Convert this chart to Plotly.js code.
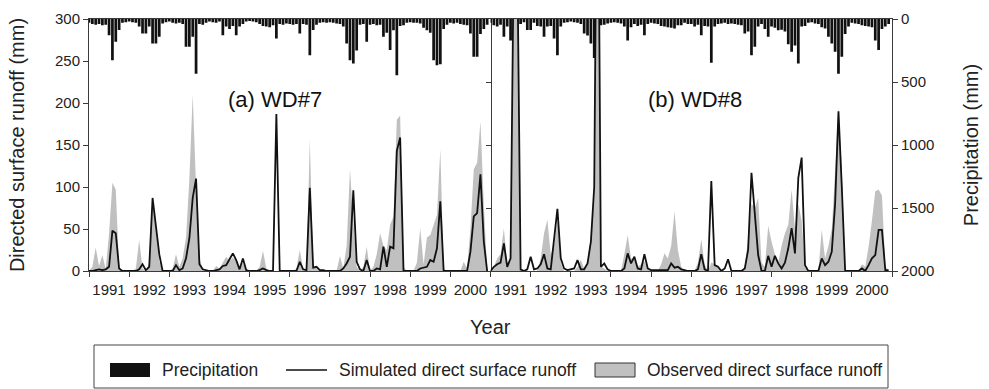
<!DOCTYPE html>
<html>
<head>
<meta charset="utf-8">
<script src="https://cdn.plot.ly/plotly-3.0.1.min.js"></script>
<style>
  html, body { margin: 0; padding: 0; background: #fff; }
  #chart { width: 989px; height: 389px; }
</style>
</head>
<body>
<div id="chart"></div>
<script>
// Monthly series, January 1991 – December 2000 (one row per year)
const years = [1991, 1992, 1993, 1994, 1995, 1996, 1997, 1998, 1999, 2000];
const yearLabels = ['1991', '1992', '1993', '1994', '1995', '1996', '1997', '1998', '1999', '2000'];

// WD#7 monthly precipitation (mm)
const wd7Precip = [
  30, 40, 45, 40, 50, 45, 128, 327, 180, 88, 30, 25,
  20, 25, 30, 60, 115, 115, 60, 195, 195, 140, 35, 25,
  20, 30, 35, 30, 40, 220, 220, 140, 434, 40, 45, 30,
  20, 25, 30, 20, 128, 60, 80, 55, 128, 60, 40, 20,
  15, 20, 25, 40, 55, 60, 65, 50, 154, 40, 45, 35,
  40, 45, 40, 115, 40, 45, 287, 88, 45, 30, 25, 30,
  25, 30, 35, 40, 60, 195, 327, 354, 250, 45, 40, 180,
  45, 40, 50, 45, 140, 110, 247, 90, 447, 55, 50, 30,
  25, 30, 30, 35, 70, 90, 110, 327, 367, 360, 80, 45,
  30, 35, 30, 40, 45, 50, 115, 300, 300, 120, 80, 45
];
// WD#7 observed direct surface runoff (mm)
const wd7Obs = [
  0, 5, 28, 6, 19, 2, 45, 105, 97, 5, 0, 0,
  0, 0, 3, 37, 3, 0, 10, 80, 50, 12, 0, 0,
  0, 3, 20, 5, 15, 40, 110, 210, 100, 15, 3, 0,
  0, 0, 6, 3, 10, 17, 12, 16, 12, 2, 10, 0,
  0, 0, 0, 5, 24, 3, 0, 0, 0, 0, 0, 0,
  0, 0, 3, 25, 3, 0, 157, 5, 3, 0, 0, 0,
  0, 0, 0, 18, 3, 30, 121, 60, 5, 0, 5, 29,
  0, 5, 20, 45, 30, 25, 55, 65, 180, 185, 5, 0,
  0, 0, 10, 51, 8, 40, 43, 55, 67, 145, 3, 0,
  0, 0, 0, 0, 11, 3, 50, 121, 129, 178, 80, 0
];
// WD#7 simulated direct surface runoff (mm)
const wd7Sim = [
  0, 0, 1, 2, 1, 2, 5, 48, 45, 3, 0, 0,
  0, 0, 0, 2, 8, 1, 5, 87, 55, 20, 0, 0,
  0, 0, 7, 1, 3, 15, 39, 87, 110, 8, 2, 1,
  0, 0, 1, 2, 6, 7, 14, 21, 13, 2, 15, 1,
  0, 0, 0, 1, 3, 1, 0, 0, 187, 0, 0, 0,
  0, 0, 0, 11, 2, 1, 99, 4, 5, 1, 1, 0,
  0, 0, 0, 0, 3, 9, 17, 96, 11, 2, 0, 13,
  0, 0, 3, 2, 29, 5, 29, 27, 143, 159, 0, 0,
  0, 0, 0, 3, 4, 5, 13, 11, 27, 83, 0, 0,
  0, 0, 0, 0, 0, 0, 23, 65, 69, 115, 35, 0
];

// WD#8 monthly precipitation (mm)
const wd8Precip = [
  30, 50, 60, 45, 140, 60, 170, 300, 200, 40, 25, 88,
  88, 30, 55, 60, 140, 60, 55, 154, 287, 60, 30, 25,
  20, 25, 30, 40, 115, 130, 195, 310, 130, 50, 45, 35,
  30, 25, 30, 35, 60, 170, 65, 40, 55, 45, 128, 40,
  30, 35, 40, 55, 60, 65, 70, 75, 50, 50, 30, 40,
  40, 60, 45, 128, 55, 60, 348, 60, 40, 35, 30, 40,
  35, 40, 45, 50, 115, 100, 287, 220, 60, 40, 80, 140,
  60, 70, 90, 85, 100, 200, 260, 210, 354, 60, 55, 30,
  25, 35, 40, 65, 75, 140, 195, 260, 434, 300, 120, 60,
  30, 35, 40, 50, 55, 60, 65, 170, 247, 80, 60, 40
];
// WD#8 observed direct surface runoff (mm)
const wd8Obs = [
  0, 5, 15, 20, 51, 8, 12, 390, 370, 3, 0, 0,
  0, 0, 0, 15, 45, 61, 20, 30, 60, 10, 0, 0,
  0, 0, 5, 13, 3, 10, 40, 90, 550, 5, 3, 0,
  0, 0, 0, 0, 20, 43, 15, 15, 5, 8, 12, 3,
  0, 0, 0, 8, 21, 15, 30, 71, 25, 5, 0, 0,
  0, 0, 10, 38, 8, 0, 10, 8, 5, 0, 0, 0,
  0, 0, 0, 0, 5, 40, 80, 75, 87, 10, 5, 54,
  35, 20, 10, 30, 45, 55, 97, 50, 80, 60, 5, 0,
  0, 0, 0, 49, 15, 30, 50, 120, 195, 120, 0, 0,
  0, 0, 0, 8, 5, 29, 60, 95, 97, 90, 5, 0
];
// WD#8 simulated direct surface runoff (mm)
const wd8Sim = [
  0, 5, 8, 10, 33, 5, 15, 400, 380, 2, 0, 2,
  17, 2, 3, 8, 20, 3, 2, 35, 74, 15, 3, 1,
  2, 3, 13, 2, 2, 9, 35, 100, 600, 5, 9, 2,
  0, 0, 0, 0, 3, 21, 9, 17, 3, 2, 20, 3,
  1, 1, 1, 1, 1, 1, 9, 4, 5, 2, 1, 0,
  0, 0, 2, 20, 2, 0, 107, 7, 5, 0, 3, 14,
  0, 0, 0, 0, 3, 25, 117, 67, 19, 0, 0, 18,
  5, 18, 9, 3, 10, 27, 51, 21, 111, 135, 7, 0,
  0, 0, 0, 15, 7, 11, 23, 80, 190, 100, 0, 0,
  0, 0, 0, 3, 0, 7, 15, 19, 49, 49, 1, 1
];

const legendLabels = ['Precipitation', 'Simulated direct surface runoff', 'Observed direct surface runoff'];
const panelLabels = ['(a) WD#7', '(b) WD#8'];

// time coordinate of each month (decimal year)
const t = [];
years.forEach(y => { for (let m = 0; m < 12; m++) t.push(y + m / 12); });

const FONT = 'Liberation Sans, Arial, Helvetica, sans-serif';
const INK = '#111111';
const AXIS = '#3a3a3a';
const GREY = '#c0c0c0';

// plot-area pixel box, used to place legend pieces in paper units
const W = 989, H = 389, L = 89, R = 892, T = 19, B = 271;
const px = x => (x - L) / (R - L);
const py = y => (B - y) / (B - T);

function panelTraces(xa, yaBars, yaRunoff, precip, obs, sim) {
  return [
    { type: 'bar', x: t, y: precip, xaxis: xa, yaxis: yaBars, width: 0.068,
      marker: { color: INK, line: { width: 0 } }, showlegend: false, hoverinfo: 'skip' },
    { type: 'scatter', mode: 'none', x: t, y: obs, xaxis: xa, yaxis: yaRunoff,
      fill: 'tozeroy', fillcolor: GREY, showlegend: false, hoverinfo: 'skip' },
    { type: 'scatter', mode: 'lines', x: t, y: sim, xaxis: xa, yaxis: yaRunoff,
      line: { color: INK, width: 1.8 }, showlegend: false, hoverinfo: 'skip' }
  ];
}

const data = [
  ...panelTraces('x', 'y', 'y3', wd7Precip, wd7Obs, wd7Sim),
  ...panelTraces('x2', 'y2', 'y4', wd8Precip, wd8Obs, wd8Sim)
];

const precipTicks = [0, 500, 1000, 1500, 2000];
const xTickVals = years.concat([years[years.length - 1] + 1]);
const xTickText = yearLabels.concat(['']);

function xAxis(domain, anchor) {
  return {
    domain: domain, anchor: anchor, range: [1991, 2001],
    tickmode: 'array', tickvals: xTickVals, ticktext: xTickText,
    ticks: 'outside', ticklen: 5, tickcolor: AXIS, ticklabelshift: 20, ticklabelstandoff: 0,
    showline: true, mirror: true, linecolor: AXIS, linewidth: 1,
    showgrid: false, zeroline: false, tickfont: { size: 15, color: '#222' }
  };
}

const layout = {
  width: W, height: H,
  margin: { l: L, r: W - R, t: T, b: H - B },
  paper_bgcolor: '#fff', plot_bgcolor: 'rgba(0,0,0,0)',
  font: { family: FONT, color: '#222' },
  showlegend: false,
  xaxis: xAxis([0, 0.5], 'y'),
  xaxis2: xAxis([0.5, 1], 'y2'),
  // left panel: precipitation (reversed) with ticks on the shared divider
  yaxis: {
    anchor: 'x', range: [2000, 0], side: 'right',
    tickmode: 'array', tickvals: precipTicks, ticks: 'inside', ticklen: 5, tickcolor: AXIS,
    showticklabels: false, showline: true, linecolor: AXIS, showgrid: false, zeroline: false
  },
  // left panel: runoff axis with labels
  yaxis3: {
    anchor: 'x', overlaying: 'y', side: 'left', range: [0, 300],
    tickmode: 'linear', tick0: 0, dtick: 50, ticks: 'outside', ticklen: 5, tickcolor: AXIS,
    showline: true, linecolor: AXIS, showgrid: false, zeroline: false,
    tickfont: { size: 15, color: '#222' },
    title: { text: 'Directed surface runoff (mm)', font: { size: 20, color: '#222' }, standoff: 24 }
  },
  // runoff ticks mirrored onto the divider
  yaxis5: {
    anchor: 'x', overlaying: 'y', side: 'right', range: [0, 300],
    tickmode: 'linear', tick0: 0, dtick: 50, ticks: 'inside', ticklen: 5, tickcolor: AXIS,
    showticklabels: false, showline: false, showgrid: false, zeroline: false
  },
  // right panel: precipitation axis with labels
  yaxis2: {
    anchor: 'x2', range: [2000, 0], side: 'right',
    tickmode: 'array', tickvals: precipTicks, ticks: 'outside', ticklen: 5, tickcolor: AXIS,
    showline: true, linecolor: AXIS, showgrid: false, zeroline: false,
    tickfont: { size: 15, color: '#222' },
    title: { text: 'Precipitation (mm)', font: { size: 20, color: '#222' }, standoff: 30 }
  },
  // right panel: runoff scale (hidden)
  yaxis4: { anchor: 'x2', overlaying: 'y2', range: [0, 300], visible: false },
  // right panel: precipitation ticks on its left edge
  yaxis6: {
    anchor: 'x2', overlaying: 'y2', side: 'left', range: [2000, 0],
    tickmode: 'array', tickvals: precipTicks, ticks: 'inside', ticklen: 5, tickcolor: AXIS,
    showticklabels: false, showline: true, linecolor: AXIS, showgrid: false, zeroline: false
  },
  annotations: [
    { xref: 'paper', yref: 'paper', x: px(275), y: py(100), text: panelLabels[0], showarrow: false,
      font: { size: 22, color: '#111' }, xanchor: 'center', yanchor: 'middle' },
    { xref: 'paper', yref: 'paper', x: px(695), y: py(100), text: panelLabels[1], showarrow: false,
      font: { size: 22, color: '#111' }, xanchor: 'center', yanchor: 'middle' },
    { xref: 'paper', yref: 'paper', x: 0.5, y: py(327), text: 'Year', showarrow: false,
      font: { size: 20, color: '#222' }, xanchor: 'center', yanchor: 'middle' },
    { xref: 'paper', yref: 'paper', x: px(160), y: py(370), text: legendLabels[0], showarrow: false,
      font: { size: 17.5, color: '#222' }, xanchor: 'left', yanchor: 'middle' },
    { xref: 'paper', yref: 'paper', x: px(337), y: py(370), text: legendLabels[1], showarrow: false,
      font: { size: 17.5, color: '#222' }, xanchor: 'left', yanchor: 'middle' },
    { xref: 'paper', yref: 'paper', x: px(645), y: py(370), text: legendLabels[2], showarrow: false,
      font: { size: 17.5, color: '#222' }, xanchor: 'left', yanchor: 'middle' }
  ],
  shapes: [
    // legend frame
    { type: 'rect', xref: 'paper', yref: 'paper', x0: px(94), x1: px(888), y0: py(345), y1: py(388),
      line: { color: '#444', width: 1 }, fillcolor: 'rgba(0,0,0,0)' },
    // legend keys
    { type: 'rect', xref: 'paper', yref: 'paper', x0: px(110), x1: px(150), y0: py(363), y1: py(377),
      line: { width: 0 }, fillcolor: INK },
    { type: 'line', xref: 'paper', yref: 'paper', x0: px(286), x1: px(327), y0: py(370), y1: py(370),
      line: { color: INK, width: 1.6 } },
    { type: 'rect', xref: 'paper', yref: 'paper', x0: px(595), x1: px(635), y0: py(363), y1: py(377),
      line: { color: '#333', width: 1 }, fillcolor: GREY }
  ]
};

Plotly.newPlot('chart', data, layout, { staticPlot: true, displayModeBar: false });
</script>
</body>
</html>
